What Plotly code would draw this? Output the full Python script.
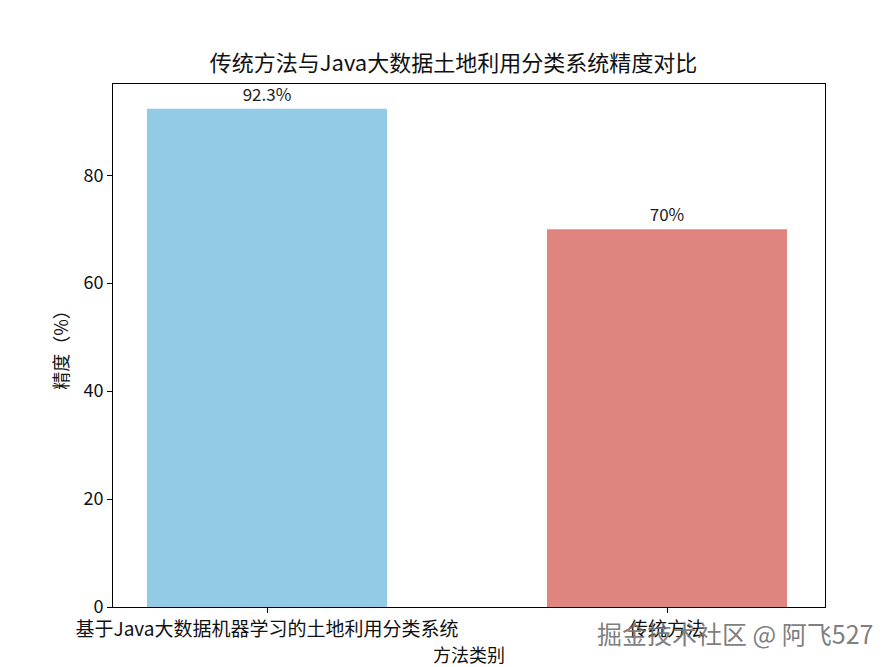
import plotly.graph_objects as go

categories = ["基于Java大数据机器学习的土地利用分类系统", "传统方法"]
accuracy = [92.3, 70]
labels = ["92.3%", "70%"]
colors = ["#93CAE6", "#E0847F"]

font = "Noto Sans CJK SC, SimHei, sans-serif"

fig = go.Figure()
fig.add_trace(go.Bar(
    x=[0, 1], y=accuracy, width=0.6,
    marker=dict(color=colors, line=dict(width=0)),
    text=labels, textposition="outside", cliponaxis=False, textangle=0,
    textfont=dict(family=font, size=17, color="#222"),
))

fig.update_layout(
    width=891, height=667,
    margin=dict(l=105, r=74, t=76, b=68),
    paper_bgcolor="white", plot_bgcolor="white",
    showlegend=False,
    title=dict(text="传统方法与Java大数据土地利用分类系统精度对比", x=0.5, xanchor="center",
               y=1 - 55/667, yanchor="middle",
               font=dict(family=font, size=22, color="#111")),
    xaxis=dict(
        range=[-0.385, 1.395], tickmode="array", tickvals=[0, 1], ticktext=categories,
        showgrid=False, zeroline=False, showline=True, linecolor="black", linewidth=1, mirror=True,
        ticks="outside", ticklen=5, tickcolor="black", automargin=False,
        tickfont=dict(family=font, size=19, color="#111"),
        title=dict(text="方法类别", font=dict(family=font, size=18, color="#111"), standoff=4),
    ),
    yaxis=dict(
        range=[0, 96.9], tickvals=[0, 20, 40, 60, 80],
        showgrid=False, zeroline=False, showline=True, linecolor="black", linewidth=1, mirror=True,
        ticks="outside", ticklen=5, tickcolor="black", automargin=False,
        tickfont=dict(family=font, size=18, color="#111"),
        title=dict(text="精度（%）", font=dict(family=font, size=18, color="#111"), standoff=10),
    ),
    uniformtext=dict(mode=False),
)

fig.add_annotation(
    text="掘金技术社区 @ 阿飞527", xref="paper", yref="paper",
    x=(587 - 105) / 712, y=-(26) / 523, xanchor="left", yanchor="middle",
    showarrow=False, font=dict(family=font, size=25, color="rgba(110,110,110,0.9)"),
)

fig.write_html("out.html")
